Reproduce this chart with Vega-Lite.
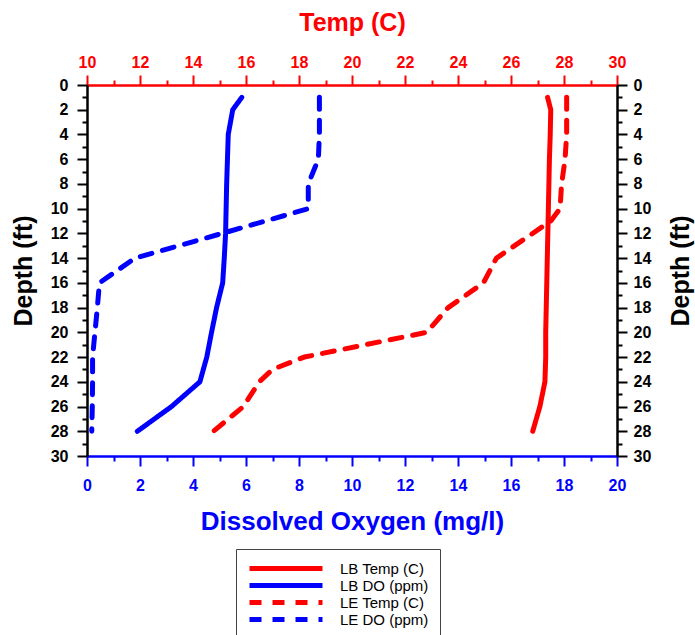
{
  "$schema": "https://vega.github.io/schema/vega-lite/v6.json",
  "width": 530,
  "height": 371,
  "autosize": {"type": "none"},
  "padding": {"left": 87, "top": 85, "right": 78, "bottom": 179},
  "background": "white",
  "config": {
    "view": {"stroke": null},
    "font": "Liberation Sans",
    "axis": {
      "grid": false,
      "labelFont": "Liberation Sans",
      "labelFontSize": 16,
      "labelFontWeight": "bold",
      "titleFont": "Liberation Sans",
      "titleFontSize": 25,
      "titleFontWeight": "bold",
      "domainWidth": 2.5,
      "tickWidth": 2,
      "labelFlush": false,
      "labelOverlap": false,
      "labelBound": false
    }
  },
  "data": {
    "values": [
      {"s": "LB Temp (C)", "d": 1, "v": 27.38},
      {"s": "LB Temp (C)", "d": 2, "v": 27.5},
      {"s": "LB Temp (C)", "d": 4, "v": 27.48},
      {"s": "LB Temp (C)", "d": 6, "v": 27.45},
      {"s": "LB Temp (C)", "d": 8, "v": 27.43},
      {"s": "LB Temp (C)", "d": 10, "v": 27.41},
      {"s": "LB Temp (C)", "d": 12, "v": 27.39},
      {"s": "LB Temp (C)", "d": 14, "v": 27.37},
      {"s": "LB Temp (C)", "d": 16, "v": 27.35},
      {"s": "LB Temp (C)", "d": 18, "v": 27.33},
      {"s": "LB Temp (C)", "d": 20, "v": 27.31},
      {"s": "LB Temp (C)", "d": 22, "v": 27.31},
      {"s": "LB Temp (C)", "d": 24, "v": 27.28},
      {"s": "LB Temp (C)", "d": 26, "v": 27.09},
      {"s": "LB Temp (C)", "d": 28, "v": 26.82},
      {"s": "LE Temp (C)", "d": 1, "v": 28.1},
      {"s": "LE Temp (C)", "d": 2, "v": 28.1},
      {"s": "LE Temp (C)", "d": 4, "v": 28.1},
      {"s": "LE Temp (C)", "d": 6, "v": 28.04},
      {"s": "LE Temp (C)", "d": 8, "v": 27.91},
      {"s": "LE Temp (C)", "d": 10, "v": 27.85},
      {"s": "LE Temp (C)", "d": 11, "v": 27.5},
      {"s": "LE Temp (C)", "d": 14, "v": 25.45},
      {"s": "LE Temp (C)", "d": 16, "v": 24.96},
      {"s": "LE Temp (C)", "d": 18, "v": 23.63},
      {"s": "LE Temp (C)", "d": 20, "v": 22.82},
      {"s": "LE Temp (C)", "d": 22, "v": 18.2},
      {"s": "LE Temp (C)", "d": 23, "v": 17.0},
      {"s": "LE Temp (C)", "d": 24, "v": 16.5},
      {"s": "LE Temp (C)", "d": 26, "v": 15.9},
      {"s": "LE Temp (C)", "d": 28, "v": 14.77},
      {"s": "LB DO (ppm)", "d": 1, "v": 5.84},
      {"s": "LB DO (ppm)", "d": 2, "v": 5.5},
      {"s": "LB DO (ppm)", "d": 4, "v": 5.33},
      {"s": "LB DO (ppm)", "d": 6, "v": 5.3},
      {"s": "LB DO (ppm)", "d": 8, "v": 5.27},
      {"s": "LB DO (ppm)", "d": 10, "v": 5.25},
      {"s": "LB DO (ppm)", "d": 12, "v": 5.23},
      {"s": "LB DO (ppm)", "d": 14, "v": 5.18},
      {"s": "LB DO (ppm)", "d": 16, "v": 5.12},
      {"s": "LB DO (ppm)", "d": 18, "v": 4.89},
      {"s": "LB DO (ppm)", "d": 20, "v": 4.7},
      {"s": "LB DO (ppm)", "d": 22, "v": 4.52},
      {"s": "LB DO (ppm)", "d": 24, "v": 4.26},
      {"s": "LB DO (ppm)", "d": 26, "v": 3.19},
      {"s": "LB DO (ppm)", "d": 28, "v": 1.9},
      {"s": "LE DO (ppm)", "d": 1, "v": 8.77},
      {"s": "LE DO (ppm)", "d": 2, "v": 8.77},
      {"s": "LE DO (ppm)", "d": 4, "v": 8.77},
      {"s": "LE DO (ppm)", "d": 6, "v": 8.73},
      {"s": "LE DO (ppm)", "d": 8, "v": 8.35},
      {"s": "LE DO (ppm)", "d": 10, "v": 8.35},
      {"s": "LE DO (ppm)", "d": 12, "v": 5.1},
      {"s": "LE DO (ppm)", "d": 14, "v": 1.81},
      {"s": "LE DO (ppm)", "d": 16, "v": 0.47},
      {"s": "LE DO (ppm)", "d": 18, "v": 0.39},
      {"s": "LE DO (ppm)", "d": 20, "v": 0.3},
      {"s": "LE DO (ppm)", "d": 22, "v": 0.21},
      {"s": "LE DO (ppm)", "d": 24, "v": 0.21},
      {"s": "LE DO (ppm)", "d": 26, "v": 0.2},
      {"s": "LE DO (ppm)", "d": 28, "v": 0.18}
    ]
  },
  "layer": [
    {
      "transform": [{"filter": "indexof(datum.s, 'Temp') >= 0"}],
      "mark": {"type": "line", "strokeWidth": 5, "strokeCap": "round", "strokeJoin": "round"},
      "encoding": {
        "x": {
          "field": "v", "type": "quantitative",
          "scale": {"domain": [10, 30], "nice": false, "zero": false},
          "axis": {
            "orient": "top", "title": "Temp (C)",
            "values": [10,11,12,13,14,15,16,17,18,19,20,21,22,23,24,25,26,27,28,29,30],
            "labelExpr": "datum.value % 2 === 0 ? datum.label : ''",
            "tickSize": {"condition": {"test": "datum.value % 2 === 0", "value": 10}, "value": 5},
            "labelPadding": 5, "titlePadding": 19,
            "domainColor": "#FF0000", "tickColor": "#FF0000", "labelColor": "#FF0000", "titleColor": "#FF0000"
          }
        },
        "y": {
          "field": "d", "type": "quantitative",
          "scale": {"domain": [0, 30], "reverse": true, "nice": false, "zero": false},
          "axis": {
            "orient": "left", "title": "Depth (ft)",
            "values": [0,1,2,3,4,5,6,7,8,9,10,11,12,13,14,15,16,17,18,19,20,21,22,23,24,25,26,27,28,29,30],
            "labelExpr": "datum.value % 2 === 0 ? datum.label : ''",
            "tickSize": {"condition": {"test": "datum.value % 2 === 0", "value": 10}, "value": 5},
            "labelPadding": 9, "titlePadding": 14,
            "domainColor": "black", "tickColor": "black", "labelColor": "black", "titleColor": "black"
          }
        },
        "order": {"field": "d", "type": "quantitative"},
        "color": {
          "field": "s", "type": "nominal",
          "scale": {"domain": ["LB Temp (C)", "LB DO (ppm)", "LE Temp (C)", "LE DO (ppm)"], "range": ["#FF0000", "#0000FF", "#FF0000", "#0000FF"]},
          "legend": {
            "orient": "none", "legendX": 149, "legendY": 464, "direction": "vertical", "title": null,
            "symbolType": "stroke", "symbolSize": 5329, "symbolStrokeWidth": 5, "clipHeight": 17,
            "rowPadding": 0, "padding": 11, "labelOffset": 15, "labelFontSize": 15, "labelFont": "Liberation Sans",
            "labelColor": "black", "strokeColor": "#444444", "fillColor": "white", "labelLimit": 200
          }
        },
        "strokeDash": {
          "field": "s", "type": "nominal",
          "scale": {"domain": ["LB Temp (C)", "LB DO (ppm)", "LE Temp (C)", "LE DO (ppm)"], "range": [[1, 0], [1, 0], [12, 11], [12, 11]]},
          "legend": {
            "orient": "none", "legendX": 149, "legendY": 464, "direction": "vertical", "title": null,
            "symbolType": "stroke", "symbolSize": 5329, "symbolStrokeWidth": 5, "clipHeight": 17,
            "rowPadding": 0, "padding": 11, "labelOffset": 15, "labelFontSize": 15, "labelFont": "Liberation Sans",
            "labelColor": "black", "strokeColor": "#444444", "fillColor": "white", "labelLimit": 200
          }
        }
      }
    },
    {
      "transform": [{"filter": "indexof(datum.s, 'DO') >= 0"}],
      "mark": {"type": "line", "strokeWidth": 5, "strokeCap": "round", "strokeJoin": "round"},
      "encoding": {
        "x": {
          "field": "v", "type": "quantitative",
          "scale": {"domain": [0, 20], "nice": false, "zero": false},
          "axis": {
            "orient": "bottom", "title": "Dissolved Oxygen (mg/l)",
            "values": [0,1,2,3,4,5,6,7,8,9,10,11,12,13,14,15,16,17,18,19,20],
            "labelExpr": "datum.value % 2 === 0 ? datum.label : ''",
            "tickSize": {"condition": {"test": "datum.value % 2 === 0", "value": 10}, "value": 5},
            "labelPadding": 11, "titlePadding": 15, "titleFontSize": 26,
            "domainColor": "#0000FF", "tickColor": "#0000FF", "labelColor": "#0000FF", "titleColor": "#0000FF"
          }
        },
        "y": {
          "field": "d", "type": "quantitative",
          "scale": {"domain": [0, 30], "reverse": true, "nice": false, "zero": false},
          "axis": {
            "orient": "right", "title": "Depth (ft)",
            "values": [0,1,2,3,4,5,6,7,8,9,10,11,12,13,14,15,16,17,18,19,20,21,22,23,24,25,26,27,28,29,30],
            "labelExpr": "datum.value % 2 === 0 ? datum.label : ''",
            "tickSize": {"condition": {"test": "datum.value % 2 === 0", "value": 10}, "value": 5},
            "labelPadding": 6, "titlePadding": 18, "titleAngle": 270, "titleBaseline": "top",
            "domainColor": "black", "tickColor": "black", "labelColor": "black", "titleColor": "black"
          }
        },
        "order": {"field": "d", "type": "quantitative"},
        "color": {"field": "s", "type": "nominal"},
        "strokeDash": {"field": "s", "type": "nominal"}
      }
    }
  ],
  "resolve": {"scale": {"x": "independent"}, "axis": {"x": "independent", "y": "independent"}}
}
